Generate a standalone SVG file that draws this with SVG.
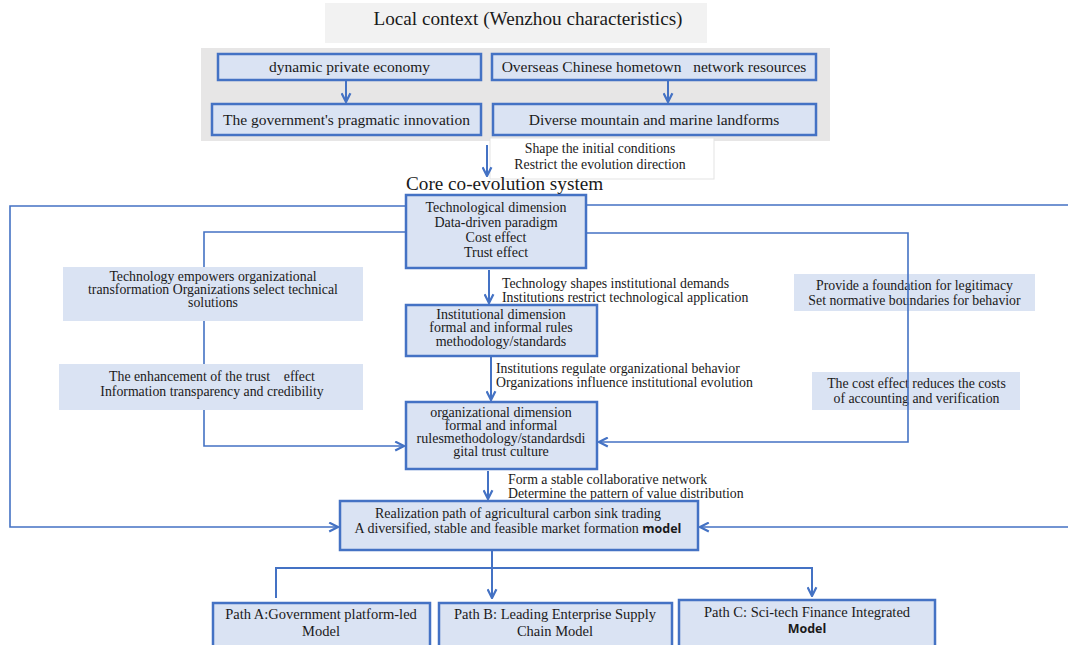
<svg xmlns="http://www.w3.org/2000/svg" width="1068" height="645" viewBox="0 0 1068 645">
<style>
  .node { fill: #dae3f3; stroke: #4472c4; stroke-width: 2.5; }
  .lab { fill: #dae3f3; stroke: none; }
  .t { font-family: "Liberation Serif", "Times New Roman", serif; fill: #1a1a1a; }
  .c { text-anchor: middle; }
  .s13 { font-size: 13.8px; }
  .s135 { font-size: 14px; }
  .sp { font-size: 14.5px; }
  .s15 { font-size: 15.5px; }
  .s18 { font-size: 19.2px; }
  .b { font-family: "Open Sans", "Liberation Sans", sans-serif; font-weight: bold; font-size: 12.5px; }
  .ln { fill: none; stroke: #4472c4; stroke-width: 2; }
  .lt { fill: none; stroke: #4472c4; stroke-width: 1.6; }
  .pre { white-space: pre; }
</style>
<defs>
  <marker id="ah" viewBox="0 0 10 10" refX="9" refY="5" markerWidth="11" markerHeight="11" markerUnits="userSpaceOnUse" orient="auto">
    <path d="M1,1 L9,5 L1,9" fill="none" stroke="#4472c4" stroke-width="2"/>
  </marker>
</defs>
<rect width="1068" height="645" fill="#ffffff"/>

<g id="title">
  <rect x="325" y="3" width="382" height="40" fill="#f2f2f2"/>
  <text class="t s18 c" x="528" y="25">Local context (Wenzhou characteristics)</text>
</g>

<g id="context">
  <rect x="201" y="48" width="629" height="93" fill="#e7e6e6"/>
</g>

<g id="n-economy">
  <rect class="node" x="218" y="54" width="263" height="26"/>
  <text class="t s15 c" x="349.5" y="72">dynamic private economy</text>
</g>
<g id="n-government">
  <rect class="node" x="212" y="104" width="269" height="31"/>
  <text class="t s15 c" x="346.5" y="124.5">The government's pragmatic innovation</text>
</g>
<g id="n-overseas">
  <rect class="node" x="492" y="54" width="324" height="26"/>
  <text class="t s15 c pre" x="654" y="72">Overseas Chinese hometown   network resources</text>
</g>
<g id="n-landforms">
  <rect class="node" x="493" y="104" width="323" height="31"/>
  <text class="t s15 c" x="654" y="124.5">Diverse mountain and marine landforms</text>
</g>

<g id="l-shape">
  <rect x="490" y="138" width="224" height="41" fill="#ffffff" stroke="#e3e3e3" stroke-width="1"/>
  <text class="t s13 c" x="600" y="152.5">Shape the initial conditions</text>
  <text class="t s13 c" x="600" y="168.5">Restrict the evolution direction</text>
</g>

<g id="core-title">
  <text class="t s18" x="406" y="190">Core co-evolution system</text>
</g>

<g id="l-provide">
  <rect class="lab" x="794" y="274" width="241" height="37"/>
  <text class="t s13 c" x="914.5" y="289.5">Provide a foundation for legitimacy</text>
  <text class="t s13 c" x="914.5" y="304.5">Set normative boundaries for behavior</text>
</g>
<g id="l-cost">
  <rect class="lab" x="812" y="372" width="208" height="38"/>
  <text class="t s13 c" x="916.5" y="387.5">The cost effect reduces the costs</text>
  <text class="t s13 c" x="916.5" y="402.5">of accounting and verification</text>
</g>

<g id="connectors">
  <polyline class="lt" points="406,206 10,206 10,527 338,527" marker-end="url(#ah)"/>
  <polyline class="lt" points="406,232 204,232 204,446 404,446" marker-end="url(#ah)"/>
  <polyline class="lt" points="586,205 1070,205 1070,527 700,527" marker-end="url(#ah)"/>
  <polyline class="lt" points="586,233 908,233 908,442 599,442" marker-end="url(#ah)"/>
  <line class="ln" x1="346" y1="81" x2="346" y2="102" marker-end="url(#ah)"/>
  <line class="ln" x1="668" y1="81" x2="668" y2="102" marker-end="url(#ah)"/>
  <line class="ln" x1="487" y1="145" x2="487" y2="176" marker-end="url(#ah)"/>
  <line class="ln" x1="489" y1="270" x2="489" y2="303" marker-end="url(#ah)"/>
  <line class="ln" x1="491" y1="357" x2="491" y2="400" marker-end="url(#ah)"/>
  <line class="ln" x1="488" y1="471" x2="488" y2="499" marker-end="url(#ah)"/>
  <line class="ln" x1="492" y1="551" x2="492" y2="598" marker-end="url(#ah)"/>
  <polyline class="ln" points="276,598 276,568 812,568 812,596" marker-end="url(#ah)"/>
</g>

<g id="l-empowers">
  <rect class="lab" x="63" y="267" width="300" height="54"/>
  <text class="t s13 c" x="213" y="280.5">Technology empowers organizational</text>
  <text class="t s13 c" x="213" y="293.5">transformation Organizations select technical</text>
  <text class="t s13 c" x="213" y="306.5">solutions</text>
</g>
<g id="l-trust">
  <rect class="lab" x="59" y="364" width="304" height="46"/>
  <text class="t s13 c pre" x="212" y="381">The enhancement of the trust    effect</text>
  <text class="t s13 c" x="212" y="396">Information transparency and credibility</text>
</g>

<g id="n-tech">
  <rect class="node" x="406" y="195" width="180" height="73"/>
  <text class="t s135 c" x="496" y="211.5">Technological dimension</text>
  <text class="t s135 c" x="496" y="227">Data-driven paradigm</text>
  <text class="t s135 c" x="496" y="241.5">Cost effect</text>
  <text class="t s135 c" x="496" y="256.5">Trust effect</text>
</g>
<g id="l-tech-inst">
  <text class="t s13" x="502" y="287.5">Technology shapes institutional demands</text>
  <text class="t s13" x="502" y="301.5">Institutions restrict technological application</text>
</g>
<g id="n-inst">
  <rect class="node" x="406" y="305" width="191" height="51"/>
  <text class="t s135 c" x="501" y="318.5">Institutional dimension</text>
  <text class="t s135 c" x="501" y="331.5">formal and informal rules</text>
  <text class="t s135 c" x="501" y="345.5">methodology/standards</text>
</g>
<g id="l-inst-org">
  <text class="t s13" x="496" y="372.5">Institutions regulate organizational behavior</text>
  <text class="t s13" x="496" y="386.5">Organizations influence institutional evolution</text>
</g>
<g id="n-org">
  <rect class="node" x="406" y="402" width="191" height="67"/>
  <text class="t s135 c" x="501" y="416.5">organizational dimension</text>
  <text class="t s135 c" x="501" y="429.5">formal and informal</text>
  <text class="t s135 c" x="501" y="442.5">rulesmethodology/standardsdi</text>
  <text class="t s135 c" x="501" y="455.5">gital trust culture</text>
</g>
<g id="l-org-real">
  <text class="t s13" x="508" y="483.5">Form a stable collaborative network</text>
  <text class="t s13" x="508" y="497.5">Determine the pattern of value distribution</text>
</g>
<g id="n-real">
  <rect class="node" x="340" y="501" width="358" height="49"/>
  <text class="t s135 c" x="518" y="517.5">Realization path of agricultural carbon sink trading</text>
  <text class="t s135 c" x="518" y="533">A diversified, stable and feasible market formation <tspan class="b">model</tspan></text>
</g>

<g id="n-pathA">
  <rect class="node" x="213" y="603" width="217" height="50"/>
  <text class="t sp c" x="321" y="619">Path A:Government platform-led</text>
  <text class="t sp c" x="321" y="636">Model</text>
</g>
<g id="n-pathB">
  <rect class="node" x="439" y="603" width="233" height="50"/>
  <text class="t sp c" x="555" y="619">Path B: Leading Enterprise Supply</text>
  <text class="t sp c" x="555" y="636">Chain Model</text>
</g>
<g id="n-pathC">
  <rect class="node" x="679" y="600" width="256" height="53"/>
  <text class="t sp c" x="807" y="617">Path C: Sci-tech Finance Integrated</text>
  <text class="t c b" x="807" y="633">Model</text>
</g>
</svg>
